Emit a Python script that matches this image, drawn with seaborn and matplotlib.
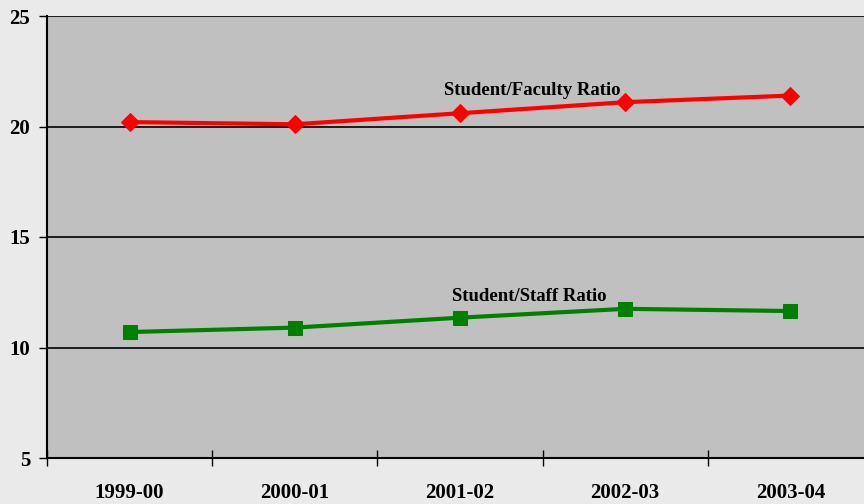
import numpy as np
import pandas as pd
import seaborn as sns
import matplotlib.pyplot as plt

# Data
years = ['1999-00', '2000-01', '2001-02', '2002-03', '2003-04']
faculty_ratio = [20.2, 20.1, 20.6, 21.1, 21.4]
staff_ratio = [10.7, 10.9, 11.35, 11.75, 11.65]

df = pd.DataFrame({
    'pos': np.arange(len(years)),
    'year': years,
    'faculty': faculty_ratio,
    'staff': staff_ratio,
})

sns.set_style('white')
plt.rcParams['font.family'] = ['Liberation Serif', 'DejaVu Serif']
plt.rcParams['font.weight'] = 'bold'
plt.rcParams['text.color'] = 'black'
plt.rcParams['xtick.color'] = 'black'
plt.rcParams['ytick.color'] = 'black'

fig = plt.figure(figsize=(8.64, 5.04), dpi=100, facecolor='#EAEAEA')
# plot area runs off the right edge of the figure, like the original
ax = fig.add_axes([47 / 864, 46 / 504, 826 / 864, 442 / 504])
ax.set_facecolor('#C0C0C0')

sns.lineplot(data=df, x='pos', y='faculty', ax=ax, color='#FF0000', lw=3,
             marker='D', markersize=9, markeredgecolor='#FF0000')
sns.lineplot(data=df, x='pos', y='staff', ax=ax, color='#008000', lw=3,
             marker='s', markersize=10, markeredgecolor='#008000')

ax.set_xlim(-0.5, len(years) - 0.5)
ax.set_ylim(5, 25)
ax.set_yticks([5, 10, 15, 20, 25])
ax.yaxis.grid(True, color='black', lw=1.2)
ax.set_axisbelow(True)

# tick marks between categories, labels at centers
ax.set_xticks(np.arange(-0.5, len(years), 1.0))
ax.set_xticklabels([])
ax.set_xticks(df['pos'], minor=True)
ax.set_xticklabels(years, minor=True)
ax.tick_params(axis='x', which='major', bottom=True, direction='inout',
               length=12, width=1, color='black')
ax.tick_params(axis='x', which='minor', bottom=True, length=0, pad=18,
               labelsize=15, labelcolor='black')
ax.tick_params(axis='y', left=True, direction='out', length=6, width=1,
               color='black', labelsize=15, pad=6, labelcolor='black')
for lab in ax.get_xticklabels(minor=True) + ax.get_yticklabels():
    lab.set_fontweight('bold')

ax.set_xlabel('')
ax.set_ylabel('')
for side in ['top', 'right']:
    ax.spines[side].set_visible(False)
for side in ['left', 'bottom']:
    ax.spines[side].set_color('black')
    ax.spines[side].set_linewidth(1.5)

ax.text(2.44, 21.65, 'Student/Faculty Ratio', ha='center', va='center',
        fontsize=13.5, fontweight='bold', color='black')
ax.text(2.42, 12.3, 'Student/Staff Ratio', ha='center', va='center',
        fontsize=13.5, fontweight='bold', color='black')

fig.savefig('out.png', dpi=100, facecolor=fig.get_facecolor())
